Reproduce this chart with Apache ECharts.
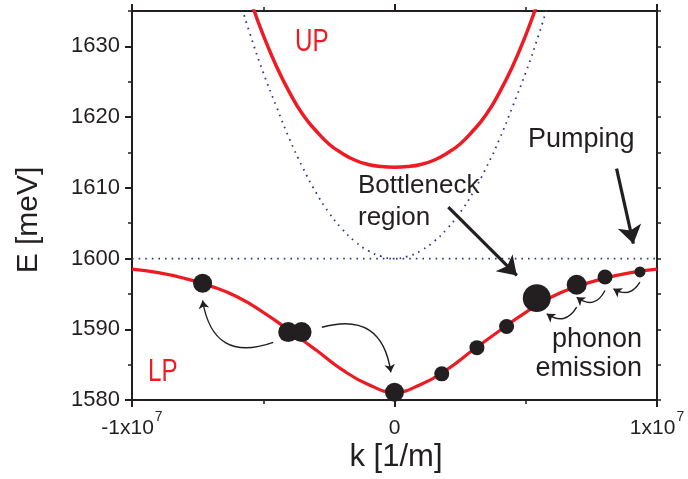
<!DOCTYPE html>
<html>
<head>
<meta charset="utf-8">
<script src="https://cdn.jsdelivr.net/npm/echarts@6/dist/echarts.min.js"></script>
<style>
html,body{margin:0;padding:0;background:#fff;}
#c{width:688px;height:479px;}
</style>
</head>
<body>
<div id="c"></div>
<script>
// ---- data (k in 1/m, E in meV) ----
var upK   = [-5.4e6,-5.0e6,-4.5e6,-4.0e6,-3.5e6,-3.0e6,-2.5e6,-2.0e6,-1.5e6,-1.0e6,-0.5e6,0,0.5e6,1.0e6,1.5e6,2.0e6,2.5e6,3.0e6,3.5e6,4.0e6,4.5e6,5.0e6,5.4e6];
var upE   = [1635.6,1631.6,1627.2,1623.5,1620.4,1618.1,1616.2,1614.9,1613.9,1613.3,1613.0,1612.9,1613.0,1613.3,1613.9,1614.9,1616.2,1618.1,1620.4,1623.5,1627.2,1631.6,1635.6];

var lpK   = [-1.0e7,-9e6,-8e6,-7e6,-6e6,-5e6,-4e6,-3e6,-2e6,-1e6,0,1e6,2e6,3e6,4e6,5e6,6e6,7e6,8e6,9e6,1.0e7];
var lpE   = [1598.5,1598.0,1597.2,1596.1,1594.6,1592.4,1589.8,1587.1,1584.3,1582.2,1581.1,1582.2,1584.3,1587.1,1589.8,1592.4,1594.6,1596.1,1597.2,1598.0,1598.5];

var photonK = [-5.8e6,-5.5e6,-5.0e6,-4.5e6,-4.0e6,-3.5e6,-3.0e6,-2.5e6,-2.0e6,-1.5e6,-1.0e6,-0.5e6,0,0.5e6,1.0e6,1.5e6,2.0e6,2.5e6,3.0e6,3.5e6,4.0e6,4.5e6,5.0e6,5.5e6,5.8e6];
var photonE = [1635.3,1631.7,1626.3,1621.5,1616.9,1612.9,1609.4,1606.5,1604.2,1602.4,1601.1,1600.3,1600.0,1600.3,1601.1,1602.4,1604.2,1606.5,1609.4,1612.9,1616.9,1621.5,1626.3,1631.7,1635.3];

var excitonK = [-1.0e7, 1.0e7];
var excitonE = [1600, 1600];

// polariton populations (dots on the LP branch), relative occupation (arb. units)
var dotK   = [-7.31e6,-4.05e6,-3.54e6,0,1.8e6,3.14e6,4.27e6,5.42e6,6.94e6,8.02e6,9.35e6];
var dotE   = [1596.5,1589.6,1589.6,1581.1,1583.7,1587.4,1590.4,1594.4,1596.3,1597.4,1598.1];
var dotPop = [3.6,4.0,4.0,3.6,2.25,2.25,2.25,7.8,4.0,2.25,1.2];

// scattering arrows (start k, start E, end k, end E)
var scatterFromK = [-4.62e6,-2.77e6,6.94e6,8.02e6,9.35e6];
var scatterFromE = [1588.16,1590.28,1593.12,1595.48,1596.66];
var scatterToK   = [-7.31e6,-0.14e6,5.80e6,6.94e6,8.34e6];
var scatterToE   = [1594.07,1583.91,1592.18,1594.53,1595.72];
var scatterBend  = [0.6,0.57,0.53,0.58,0.5];

// labelled pointer arrows
var pointerFromK = [2.05e6, 8.46e6];
var pointerFromE = [1607.28, 1612.72];
var pointerToK   = [4.66e6, 9.10e6];
var pointerToE   = [1597.61, 1602.10];

var yMin = 1580, yMax = 1635, xMin = -1e7, xMax = 1e7;

// ---- build ----
function zip(a,b){ return a.map(function(v,i){ return [v,b[i]]; }); }
var INK = '#231f20', RED = '#ed1c24', BLUE = '#2e3592';
var FONT = '"Liberation Sans", Arial, sans-serif';

var chart = echarts.init(document.getElementById('c'), null, {renderer:'canvas'});

function xLabel(v){
  if (v === 0) return '{b|0}';
  var s = v < 0 ? '-' : '';
  return '{b|' + s + '1x10}{s|7}';
}

var axisLineStyle = {color: INK, width: 2};
var option = {
  animation: false,
  backgroundColor: '#fff',
  grid: {left: 132, top: 11, width: 525, height: 389, containLabel: false},
  xAxis: [
    {type:'value', position:'bottom', min:xMin, max:xMax, interval:1e7,
     axisLine:{show:true, onZero:false, lineStyle:axisLineStyle},
     axisTick:{show:true, inside:false, length:7, lineStyle:{color:INK, width:2}},
     minorTick:{show:true, splitNumber:2, length:4, lineStyle:{color:INK, width:1.5}},
     splitLine:{show:false},
     axisLabel:{margin:10, formatter:xLabel, color:INK,
       rich:{
         b:{fontSize:21, fontFamily:FONT, color:INK, padding:[8,0,0,0]},
         s:{fontSize:14, fontFamily:FONT, color:INK, verticalAlign:'top', padding:[0,0,0,1]}
       }}
    },
    {type:'value', position:'top', min:xMin, max:xMax, interval:1e7,
     axisLine:{show:true, onZero:false, lineStyle:axisLineStyle},
     axisTick:{show:true, inside:false, length:7, lineStyle:{color:INK, width:2}},
     minorTick:{show:true, splitNumber:2, length:4, lineStyle:{color:INK, width:1.5}},
     splitLine:{show:false}, axisLabel:{show:false}
    }
  ],
  yAxis: [
    {type:'value', position:'left', min:yMin, max:yMax, interval:10,
     axisLine:{show:true, onZero:false, lineStyle:axisLineStyle},
     axisTick:{show:true, inside:false, length:7, lineStyle:{color:INK, width:2}},
     splitLine:{show:false},
     axisLabel:{margin:12, fontSize:22, fontFamily:FONT, color:INK, showMaxLabel:false,
       formatter:function(v){ return (v % 10 === 0) ? String(v) : ''; }}
    },
    {type:'value', position:'left', min:yMin, max:yMax, interval:5,
     axisLine:{show:false, onZero:false}, axisTick:{show:true, inside:false, length:4, lineStyle:{color:INK, width:1.5}},
     splitLine:{show:false}, axisLabel:{show:false}
    },
    {type:'value', position:'right', min:yMin, max:yMax, interval:5,
     axisLine:{show:true, onZero:false, lineStyle:axisLineStyle},
     axisTick:{show:true, inside:false, length:4, lineStyle:{color:INK, width:1.5}},
     splitLine:{show:false}, axisLabel:{show:false}
    }
  ],
  series: [
    {type:'line', name:'exciton', data:zip(excitonK, excitonE), symbol:'none', z:1,
     lineStyle:{color:BLUE, width:1.8, type:[1.6,5]}},
    {type:'line', name:'photon', data:zip(photonK, photonE), symbol:'none', smooth:true, z:1,
     lineStyle:{color:BLUE, width:1.8, type:[1.6,5]}},
    {type:'line', name:'UP', data:zip(upK, upE), symbol:'none', smooth:true, z:2,
     lineStyle:{color:RED, width:3.5}},
    {type:'line', name:'LP', data:zip(lpK, lpE), symbol:'none', smooth:true, z:2,
     lineStyle:{color:RED, width:3.2}},
    {type:'lines', name:'scattering', coordinateSystem:'cartesian2d', z:4,
     symbol:['none','arrow'], symbolSize:8,
     lineStyle:{color:INK, width:1.4, opacity:1},
     data: scatterFromK.map(function(k,i){
       return {coords:[[k, scatterFromE[i]],[scatterToK[i], scatterToE[i]]], lineStyle:{curveness:scatterBend[i]}};
     })},
    {type:'lines', name:'pointers', coordinateSystem:'cartesian2d', z:4,
     symbol:['none','arrow'], symbolSize:[0,18],
     lineStyle:{color:INK, width:3.2, opacity:1, curveness:0},
     data: pointerFromK.map(function(k,i){
       return {coords:[[k, pointerFromE[i]],[pointerToK[i], pointerToE[i]]]};
     })},
    {type:'scatter', name:'population', z:5,
     data: dotK.map(function(k,i){ return [k, dotE[i], dotPop[i]]; }),
     symbolSize:function(d){ return 10*Math.sqrt(d[2]); },
     itemStyle:{color:INK, opacity:1}}
  ],
  graphic: [
    {type:'text', x:29, y:220, rotation:Math.PI/2, style:{text:'E [meV]', font:'30px '+FONT, fill:INK, align:'center', verticalAlign:'middle'}},
    {type:'text', x:396, y:457, style:{text:'k [1/m]', font:'31px '+FONT, fill:INK, align:'center', verticalAlign:'middle'}},
    {type:'text', x:295, y:42, scaleX:0.78, style:{text:'UP', font:'31px '+FONT, fill:RED, align:'left', verticalAlign:'middle'}},
    {type:'text', x:148, y:372, scaleX:0.78, style:{text:'LP', font:'31px '+FONT, fill:RED, align:'left', verticalAlign:'middle'}},
    {type:'text', x:358, y:186, style:{text:'Bottleneck', font:'26px '+FONT, fill:INK, align:'left', verticalAlign:'middle'}},
    {type:'text', x:358, y:218, style:{text:'region', font:'26px '+FONT, fill:INK, align:'left', verticalAlign:'middle'}},
    {type:'text', x:528, y:140, style:{text:'Pumping', font:'27px '+FONT, fill:INK, align:'left', verticalAlign:'middle'}},
    {type:'text', x:642, y:340, style:{text:'phonon', font:'27px '+FONT, fill:INK, align:'right', verticalAlign:'middle'}},
    {type:'text', x:642, y:369, style:{text:'emission', font:'27px '+FONT, fill:INK, align:'right', verticalAlign:'middle'}}
  ]
};
chart.setOption(option);
</script>
</body>
</html>
